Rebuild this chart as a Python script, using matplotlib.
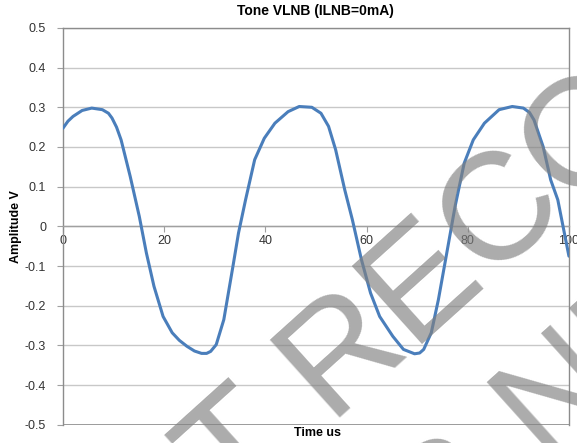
import numpy as np
import matplotlib
matplotlib.use("Agg")
import matplotlib.pyplot as plt

plt.rcParams['font.family'] = ['Liberation Sans', 'DejaVu Sans']

# tone waveform (time in us, amplitude in V)
time_us = [0, 1.0, 2.0, 3.8, 5.7, 7.8, 9.0, 9.7, 10.6, 11.5, 13.3, 15.1, 16.5, 18.0,
           19.8, 21.6, 23.0, 24.5, 26.0, 27.4, 28.4, 29.2, 30.3, 31.8, 33.6, 34.7,
           36.1, 37.9, 39.8, 41.9, 44.5, 46.7, 49.2, 51.0, 52.5, 53.9, 55.7, 57.2,
           59.0, 60.8, 62.6, 65.2, 67.3, 69.5, 70.5, 71.3, 72.8, 74.2, 76.1, 77.5,
           79.3, 81.1, 83.3, 86.2, 88.8, 91.0, 92.2, 93.1, 94.9, 96.4, 97.8, 100]
amp_v = [0.247, 0.265, 0.277, 0.292, 0.298, 0.294, 0.285, 0.273, 0.250, 0.218,
         0.126, 0.025, -0.067, -0.151, -0.227, -0.268, -0.287, -0.302, -0.314,
         -0.320, -0.320, -0.315, -0.298, -0.235, -0.101, -0.017, 0.067, 0.168,
         0.222, 0.260, 0.289, 0.302, 0.300, 0.285, 0.252, 0.193, 0.092, 0.017,
         -0.084, -0.168, -0.227, -0.277, -0.310, -0.321, -0.319, -0.310, -0.268,
         -0.185, -0.050, 0.050, 0.159, 0.218, 0.260, 0.294, 0.302, 0.298, 0.287,
         0.268, 0.201, 0.117, 0.067, -0.075]

x_ticks = [0, 20, 40, 60, 80, 100]
y_ticks = [-0.5, -0.4, -0.3, -0.2, -0.1, 0, 0.1, 0.2, 0.3, 0.4, 0.5]

fig = plt.figure(figsize=(5.77, 4.43), dpi=100)
ax = fig.add_axes([0.109, 0.041, 0.877, 0.896])

ax.plot(time_us, amp_v, color='#4a7ebb', lw=2.2, solid_capstyle='round',
        solid_joinstyle='round', zorder=3)

ax.set_xlim(0, 100)
ax.set_ylim(-0.5, 0.5)
ax.set_yticks(y_ticks)
ax.set_yticklabels(['0' if v == 0 else f'{v:.1f}' for v in y_ticks])
ax.set_xticks(x_ticks)

for v in y_ticks:
    ax.axhline(v, color='#c8c8c8', lw=1, zorder=1)
for s in ax.spines.values():
    s.set_color('#8c8c8c')
    s.set_linewidth(1)

# x axis crosses at zero like the Excel chart
ax.spines['bottom'].set_position(('data', 0))
ax.spines['bottom'].set_color('#a0a0a0')
ax.axhline(-0.5, color='#8c8c8c', lw=1.2, zorder=2)
ax.tick_params(axis='x', direction='out', length=4, color='#a0a0a0',
               labelsize=9, labelcolor='#333333', pad=2)
ax.tick_params(axis='y', length=4, color='#a0a0a0', labelsize=9,
               labelcolor='#333333', pad=8)

ax.set_title('Tone VLNB (ILNB=0mA)', fontsize=10, fontweight='bold', pad=9)
ax.set_ylabel('Amplitude V', fontsize=9, fontweight='bold', labelpad=2)
fig.text(0.551, 0.008, 'Time us', fontsize=9, fontweight='bold', ha='center', va='bottom')

# watermark over the plot
wm = dict(fontsize=110, color='#808080', alpha=0.66, rotation=42,
          rotation_mode='anchor', ha='left', va='baseline', zorder=10)
fig.text(62 / 577, 1 - 668 / 443, 'NOT RECOMMENDED', transform=fig.transFigure, **wm)
fig.text(277 / 577, 1 - 712 / 443, 'FOR NEW DESIGNS', transform=fig.transFigure, **wm)

fig.savefig('out.png', dpi=100)
